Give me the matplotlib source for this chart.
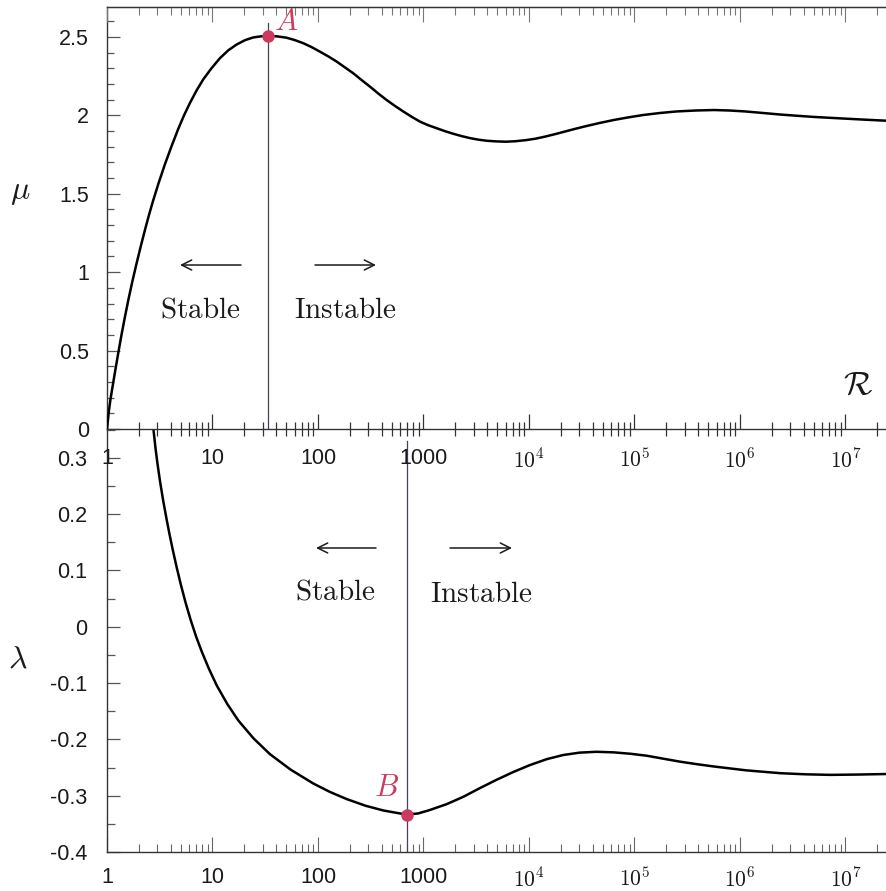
import numpy as np
import matplotlib
matplotlib.use('Agg')
import matplotlib.pyplot as plt
from matplotlib.ticker import MultipleLocator, LogLocator, NullFormatter, FixedLocator, FixedFormatter

plt.rcParams['font.family'] = ['Liberation Sans', 'DejaVu Sans']
plt.rcParams['mathtext.fontset'] = 'cm'

# ---- data ----
logR_mu = [0.0, 0.018, 0.032, 0.06, 0.085, 0.11, 0.139, 0.17, 0.202, 0.24, 0.281,
           0.32, 0.36, 0.40, 0.439, 0.49, 0.55, 0.61, 0.676, 0.73, 0.787, 0.85,
           0.913, 0.99, 1.071, 1.15, 1.229, 1.31, 1.387, 1.46, 1.53, 1.61, 1.703,
           1.78, 1.861, 1.94, 2.019, 2.1, 2.177, 2.255, 2.335, 2.41, 2.493, 2.57,
           2.65, 2.73, 2.81, 2.89, 2.967, 3.045, 3.125, 3.2, 3.28, 3.36, 3.44,
           3.52, 3.6, 3.69, 3.78, 3.87, 3.97, 4.06, 4.15, 4.24, 4.33, 4.42, 4.52,
           4.66, 4.8, 4.94, 5.08, 5.24, 5.4, 5.58, 5.755, 5.9, 6.05, 6.22, 6.387,
           6.55, 6.7, 6.945, 7.2, 7.384]
mu = [0.0, 0.115, 0.185, 0.30, 0.40, 0.497, 0.606, 0.715, 0.822, 0.94, 1.058,
      1.165, 1.27, 1.37, 1.46, 1.57, 1.69, 1.80, 1.915, 2.0, 2.08, 2.16,
      2.23, 2.30, 2.365, 2.415, 2.452, 2.48, 2.497, 2.504, 2.506, 2.504, 2.495,
      2.48, 2.46, 2.435, 2.406, 2.375, 2.343, 2.306, 2.268, 2.227, 2.183, 2.14,
      2.098, 2.06, 2.024, 1.99, 1.96, 1.937, 1.918, 1.90, 1.883, 1.868, 1.855,
      1.845, 1.838, 1.834, 1.832, 1.835, 1.842, 1.851, 1.864, 1.879, 1.895, 1.911, 1.928,
      1.95, 1.97, 1.987, 2.002, 2.015, 2.025, 2.031, 2.034, 2.031, 2.025, 2.015, 2.005,
      1.997, 1.99, 1.981, 1.972, 1.966]

logR_lam = [0.439, 0.461, 0.48, 0.502, 0.532, 0.566, 0.592, 0.622, 0.66, 0.701, 0.745,
            0.793, 0.845, 0.897, 0.965, 1.04, 1.14, 1.245, 1.39, 1.545, 1.74, 1.956,
            2.114, 2.272, 2.45, 2.62, 2.74, 2.84, 2.95, 3.06, 3.22, 3.377, 3.53,
            3.69, 3.85, 4.01, 4.17, 4.325, 4.48, 4.64, 4.8, 4.96, 5.116, 5.28, 5.43,
            5.59, 5.747, 6.06, 6.38, 6.62, 6.853, 7.1, 7.384]
lam = [0.3526, 0.3152, 0.2877, 0.2591, 0.2246, 0.1899, 0.1649, 0.1379, 0.106, 0.074, 0.0428,
       0.0121, -0.0175, -0.0435, -0.0741, -0.1041, -0.1371, -0.1665, -0.1984, -0.2263, -0.2536, -0.2784,
       -0.2934, -0.306, -0.3178, -0.3263, -0.3303, -0.3335, -0.3315, -0.3254, -0.315, -0.302, -0.287,
       -0.272, -0.258, -0.2455, -0.235, -0.2277, -0.2235, -0.222, -0.223, -0.2255, -0.229, -0.2345, -0.2395,
       -0.244, -0.248, -0.255, -0.260, -0.262, -0.263, -0.2625, -0.2615]

logR_A, mu_A = 1.53, 2.506
logR_B, lam_B = 2.84, -0.3335
mu_A_line_top = 2.59
lam_B_line_top = 0.33

xtick_values = [1, 10, 100, 1000, 1e4, 1e5, 1e6, 1e7]
xtick_labels = ['1', '10', '100', '1000', r'$10^{4}$', r'$10^{5}$', r'$10^{6}$', r'$10^{7}$']
mu_ticks = [0, 0.5, 1, 1.5, 2, 2.5]
mu_tick_labels = ['0', '0.5', '1', '1.5', '2', '2.5']
lam_ticks = [0.3, 0.2, 0.1, 0, -0.1, -0.2, -0.3, -0.4]
lam_tick_labels = ['0.3', '0.2', '0.1', '0', '-0.1', '-0.2', '-0.3', '-0.4']

R_mu = 10 ** np.array(logR_mu)
R_lam = 10 ** np.array(logR_lam)
R_A = 10 ** logR_A
R_B = 10 ** logR_B

# ---- figure ----
W, H = 886, 891
fig = plt.figure(figsize=(W / 100, H / 100), dpi=100)
left = 107 / W
ax1 = fig.add_axes([left, 1 - 429 / H, 1 - left, (429 - 7) / H])
ax2 = fig.add_axes([left, 1 - 852 / H, 1 - left, (852 - 429) / H])
ax1.set_zorder(3)
ax1.patch.set_visible(False)

xmax = 10 ** 7.384
txt = '#1a1a1a'
line_col = '#4a3f58'
pt_col = '#cc3a5e'

# ---- top panel ----
ax1.set_xscale('log')
ax1.set_xlim(1, xmax)
ax1.set_ylim(0, 2.691)
ax1.plot(R_mu, mu, color='black', lw=1.8, solid_capstyle='round', solid_joinstyle='round', zorder=3)
ax1.plot([R_A, R_A], [0, mu_A_line_top], color=line_col, lw=0.9, zorder=2)
ax1.plot([R_A], [mu_A], 'o', color=pt_col, ms=8, zorder=4)
ax1.text(R_A * 1.13, mu_A + 0.09, r'$A$', color=pt_col, fontsize=22, ha='left', va='center')

ax1.spines['right'].set_visible(False)
for s in ['left', 'bottom', 'top']:
    ax1.spines[s].set_linewidth(1.0)
    ax1.spines[s].set_color('#333333')

ax1.xaxis.set_major_locator(FixedLocator(xtick_values))
ax1.xaxis.set_major_formatter(FixedFormatter(xtick_labels))
ax1.xaxis.set_minor_locator(LogLocator(base=10, subs=np.arange(2, 10), numticks=20))
ax1.xaxis.set_minor_formatter(NullFormatter())
ax1.tick_params(axis='x', which='major', direction='in', length=11, width=0.9,
                top=False, bottom=True, labelsize=15.5, pad=14, colors='#333333', labelcolor=txt)
ax1.tick_params(axis='x', which='minor', direction='inout', length=10, width=0.9,
                top=False, bottom=True, colors='#333333')
ax1.yaxis.set_major_locator(FixedLocator(mu_ticks))
ax1.yaxis.set_major_formatter(FixedFormatter(mu_tick_labels))
ax1.yaxis.set_minor_locator(MultipleLocator(0.1))
ax1.tick_params(axis='y', which='major', direction='in', length=9, width=0.9,
                labelsize=15.5, pad=13, colors='#555555', labelcolor=txt)
ax1.tick_params(axis='y', which='minor', direction='in', length=5, width=0.9, colors='#555555')

axt = ax1.twiny()
axt.set_zorder(3)
axt.patch.set_visible(False)
axt.set_xscale('log')
axt.set_xlim(1, xmax)
axt.xaxis.set_major_locator(FixedLocator(xtick_values))
axt.xaxis.set_minor_locator(LogLocator(base=10, subs=np.arange(2, 10), numticks=20))
axt.xaxis.set_minor_formatter(NullFormatter())
axt.tick_params(axis='x', which='major', direction='in', length=11, width=0.8,
                labeltop=False, top=True, colors='#777777')
axt.tick_params(axis='x', which='minor', direction='in', length=6, width=0.8, top=True,
                colors='#777777')
for s in ['right', 'left', 'bottom']:
    axt.spines[s].set_visible(False)
axt.spines['top'].set_color('#333333')

# annotations top
ax1.annotate('', xy=(0.0937, 0.3886), xytext=(0.172, 0.3886), xycoords='axes fraction',
             arrowprops=dict(arrowstyle='->', lw=1.1, color=txt, mutation_scale=18,
                             shrinkA=0, shrinkB=0))
ax1.annotate('', xy=(0.3453, 0.3886), xytext=(0.267, 0.3886), xycoords='axes fraction',
             arrowprops=dict(arrowstyle='->', lw=1.1, color=txt, mutation_scale=18,
                             shrinkA=0, shrinkB=0))
ax1.text(0.1194, 0.282, r'$\mathrm{Stable}$', transform=ax1.transAxes, fontsize=21,
         ha='center', va='center', color=txt)
ax1.text(0.3055, 0.282, r'$\mathrm{Instable}$', transform=ax1.transAxes, fontsize=21,
         ha='center', va='center', color=txt)

# ---- bottom panel ----
ax2.set_xscale('log')
ax2.set_xlim(1, xmax)
ax2.set_ylim(-0.4, 0.3513)
ax2.plot(R_lam, lam, color='black', lw=1.8, solid_capstyle='round', solid_joinstyle='round', zorder=3)
ax2.plot([R_B, R_B], [-0.4, lam_B_line_top], color=line_col, lw=0.9, zorder=2)
ax2.plot([R_B], [lam_B], 'o', color=pt_col, ms=8, zorder=4)
ax2.text(R_B * 0.85, lam_B + 0.047, r'$B$', color=pt_col, fontsize=22, ha='right', va='center')

ax2.spines['right'].set_visible(False)
ax2.spines['top'].set_visible(False)
for s in ['left', 'bottom']:
    ax2.spines[s].set_linewidth(1.0)
    ax2.spines[s].set_color('#333333')

ax2.xaxis.set_major_locator(FixedLocator(xtick_values))
ax2.xaxis.set_major_formatter(FixedFormatter(xtick_labels))
ax2.xaxis.set_minor_locator(LogLocator(base=10, subs=np.arange(2, 10), numticks=20))
ax2.xaxis.set_minor_formatter(NullFormatter())
ax2.tick_params(axis='x', which='major', direction='in', length=11, width=0.8,
                labelsize=15.5, pad=11, colors='#666666', labelcolor=txt)
ax2.tick_params(axis='x', which='minor', direction='in', length=6, width=0.8, colors='#666666')
ax2.yaxis.set_major_locator(FixedLocator(lam_ticks))
ax2.yaxis.set_major_formatter(FixedFormatter(lam_tick_labels))
ax2.yaxis.set_minor_locator(MultipleLocator(0.05))
ax2.tick_params(axis='y', which='major', direction='in', length=9, width=0.9,
                labelsize=15.5, pad=14, colors='#555555', labelcolor=txt)
ax2.tick_params(axis='y', which='minor', direction='in', length=6, width=0.9, colors='#555555')

ax2.annotate('', xy=(0.2683, 0.7187), xytext=(0.3453, 0.7187), xycoords='axes fraction',
             arrowprops=dict(arrowstyle='->', lw=1.1, color=txt, mutation_scale=18,
                             shrinkA=0, shrinkB=0))
ax2.annotate('', xy=(0.5199, 0.7187), xytext=(0.4403, 0.7187), xycoords='axes fraction',
             arrowprops=dict(arrowstyle='->', lw=1.1, color=txt, mutation_scale=18,
                             shrinkA=0, shrinkB=0))
ax2.text(0.2927, 0.6147, r'$\mathrm{Stable}$', transform=ax2.transAxes, fontsize=21,
         ha='center', va='center', color=txt)
ax2.text(0.4801, 0.61, r'$\mathrm{Instable}$', transform=ax2.transAxes, fontsize=21,
         ha='center', va='center', color=txt)

# ---- axis symbols ----
fig.text(20 / W, 1 - 192 / H, r'$\mu$', fontsize=23, ha='center', va='center', color=txt)
fig.text(18 / W, 1 - 660 / H, r'$\lambda$', fontsize=23, ha='center', va='center', color=txt)
fig.text(858 / W, 1 - 385 / H, r'$\mathcal{R}$', fontsize=24, ha='center', va='center', color=txt)

fig.savefig('out.png', dpi=100)
